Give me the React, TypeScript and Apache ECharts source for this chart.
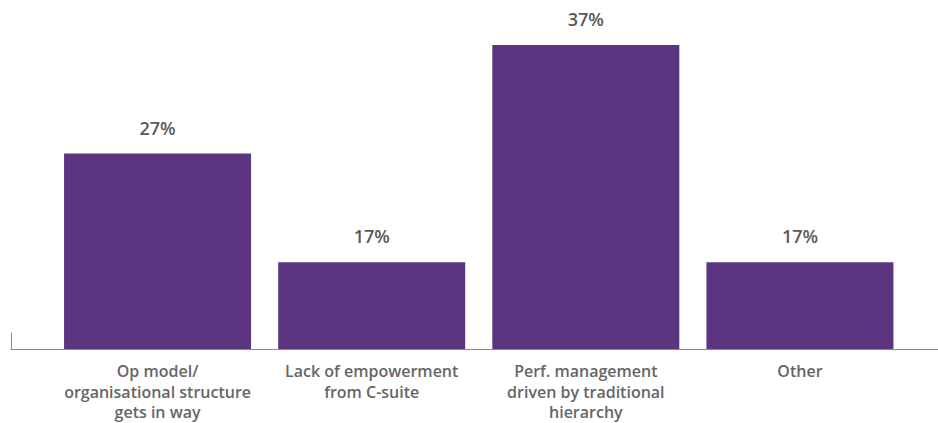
import React, { useEffect, useRef } from "react";
import * as echarts from "echarts";

const categories: string[] = [
  "Op model/\norganisational structure\ngets in way",
  "Lack of empowerment\nfrom C-suite",
  "Perf. management\ndriven by traditional\nhierarchy",
  "Other",
];
const values: number[] = [27, 17, 37, 17];

export default function App() {
  const ref = useRef<HTMLDivElement>(null);
  useEffect(() => {
    document.body.style.margin = "0";
    if (!ref.current) return;
    const chart = echarts.init(ref.current, null, { renderer: "svg" });
    const font = "'Open Sans', 'Noto Sans', sans-serif";
    chart.setOption({
      animation: false,
      backgroundColor: "#ffffff",
      grid: [
        { left: 50.5, right: 31, top: 45, bottom: 74, outerBoundsMode: "none", containLabel: false },
        { left: 11, right: 0, top: 333, bottom: 74, outerBoundsMode: "none", containLabel: false },
      ],
      xAxis: [
        {
          type: "category",
          gridIndex: 0,
          data: categories,
          axisLine: { show: false },
          axisTick: { show: false },
          axisLabel: {
            interval: 0,
            margin: 12,
            color: "#666666",
            fontFamily: font,
            fontSize: 16,
            fontWeight: 600,
            lineHeight: 20.5,
            verticalAlign: "top",
          },
        },
        {
          type: "value",
          gridIndex: 1,
          min: 0,
          max: 1,
          axisLine: { show: true, lineStyle: { color: "#8a8a8a", width: 1 } },
          axisTick: { show: false },
          axisLabel: { show: false },
          splitLine: { show: false },
        },
      ],
      yAxis: [
        {
          type: "value",
          gridIndex: 0,
          min: 9,
          max: 37,
          show: false,
          splitLine: { show: false },
        },
        {
          type: "value",
          gridIndex: 1,
          min: 0,
          max: 1,
          axisLine: { show: true, lineStyle: { color: "#8a8a8a", width: 1 } },
          axisTick: { show: false },
          axisLabel: { show: false },
          splitLine: { show: false },
        },
      ],
      series: [
        {
          type: "bar",
          xAxisIndex: 0,
          yAxisIndex: 0,
          data: values,
          barWidth: 187,
          itemStyle: { color: "#5c3580" },
          label: {
            show: true,
            position: "top",
            distance: 17,
            formatter: (p: any) => `${p.value}%`,
            color: "#595959",
            fontFamily: font,
            fontSize: 18,
            fontWeight: 600,
          },
        },
      ],
    });
    return () => chart.dispose();
  }, []);
  return <div ref={ref} style={{ width: 938, height: 423 }} />;
}
